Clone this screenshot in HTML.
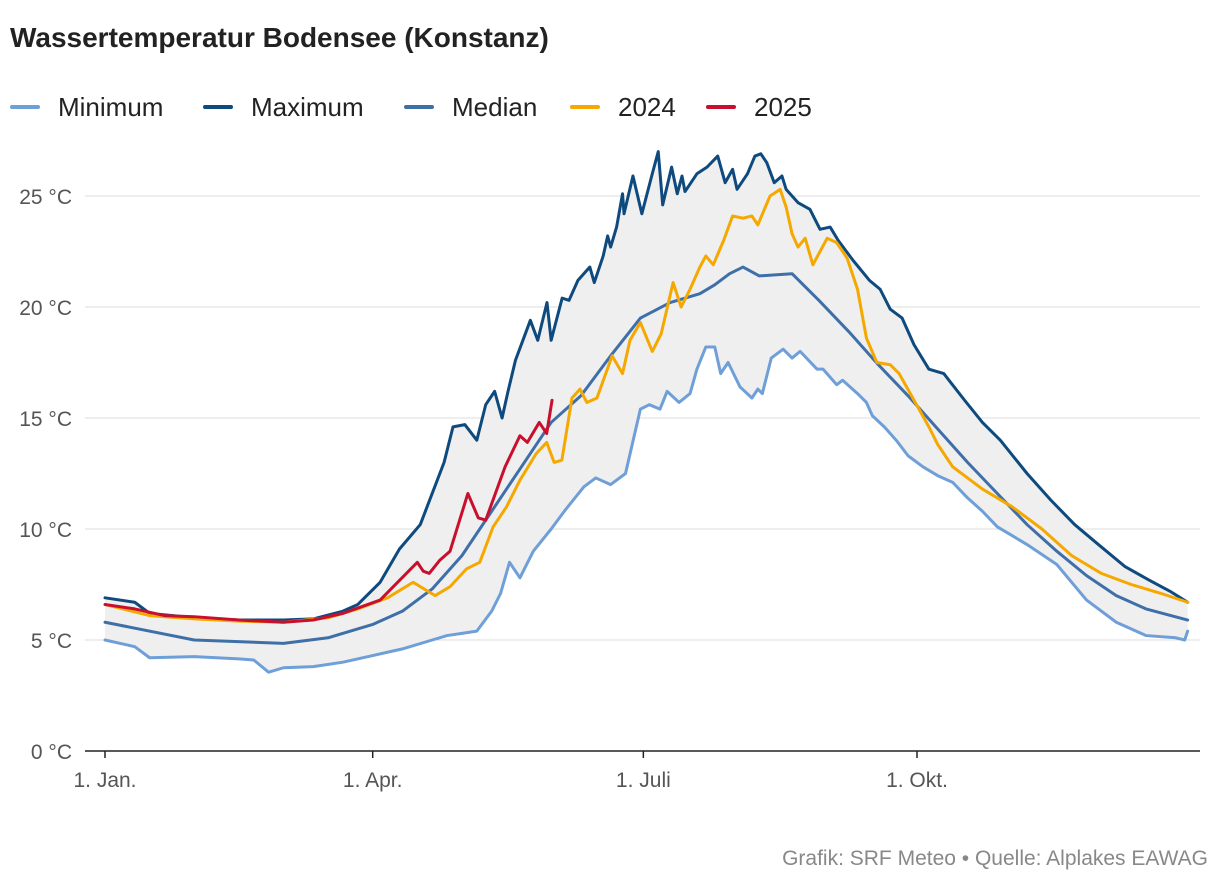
<!DOCTYPE html>
<html><head><meta charset="utf-8"><style>
body{margin:0;background:#fff;width:1220px;height:888px;overflow:hidden;font-family:"Liberation Sans",sans-serif}
</style></head><body>
<svg id="c" width="1220" height="888" xmlns="http://www.w3.org/2000/svg">
<text x="10" y="47" font-size="28" font-weight="bold" fill="#222">Wassertemperatur Bodensee (Konstanz)</text>
<g id="legend"></g>
<g id="grid"></g>
<g id="plot"></g>
<text x="1208" y="865" font-size="21" fill="#888" text-anchor="end">Grafik: SRF Meteo • Quelle: Alplakes EAWAG</text>
</svg>
<script>
const yTicks=[0,5,10,15,20,25];
const xTickDays=[0,90,181,273];
const xTickLabels=["1. Jan.","1. Apr.","1. Juli","1. Okt."];
const seriesNames=["Minimum","Maximum","Median","2024","2025"];
const minDays=[0,10,15,30,45,50,55,60,70,80,90,100,110,115,120,125,130,133,136,139.5,144,150,155,161,165,170,175,180,183,186.6,189,193,196.7,199,202,205,207,209.5,213.5,217.5,219.5,221,224,228,231,233.7,239.4,241.4,246,248,253,256,258,262,266,270,275,280,285,290,295,300,310,320,330,340,350,360,363,364];
const minVals=[5.0,4.7,4.2,4.25,4.15,4.1,3.55,3.75,3.8,4.0,4.3,4.6,5.0,5.2,5.3,5.4,6.3,7.1,8.5,7.8,9.0,10.0,10.9,11.9,12.3,12.0,12.5,15.4,15.6,15.4,16.2,15.7,16.1,17.2,18.2,18.2,17.0,17.5,16.4,15.9,16.3,16.1,17.7,18.1,17.7,18.0,17.2,17.2,16.5,16.7,16.1,15.7,15.1,14.6,14.0,13.3,12.8,12.4,12.1,11.4,10.8,10.1,9.3,8.4,6.8,5.8,5.2,5.1,5.0,5.4];
const maxDays=[0,10,15,30,45,60,70,80,85,92.5,99,106,114,117,121,125,128,131,133.5,135.5,138,140.5,143,145.5,148.6,150,153.7,156,159,163,164.5,167.5,169,170,172,174,174.5,177.5,180.5,184,186,187.5,190.5,192.4,194,195,199,202.4,206,208.5,211,212.5,216,218.5,220.5,222.5,225,227.6,229,233,237,240.4,243.8,246.5,251.5,257,260.6,264,268,272,277,282,289,295,301,310,318,326,334,343,351,358,364];
const maxVals=[6.9,6.7,6.2,6.0,5.9,5.9,5.95,6.3,6.6,7.6,9.1,10.2,13.0,14.6,14.7,14.0,15.6,16.2,15.0,16.2,17.6,18.5,19.4,18.5,20.2,18.5,20.4,20.3,21.2,21.8,21.1,22.3,23.2,22.7,23.6,25.1,24.2,25.9,24.2,26.0,27.0,24.6,26.3,25.1,25.9,25.2,26.0,26.3,26.8,25.6,26.2,25.3,26.0,26.8,26.9,26.5,25.6,25.9,25.3,24.7,24.4,23.5,23.6,23.0,22.1,21.2,20.8,19.9,19.5,18.3,17.2,17.0,15.8,14.8,14.0,12.5,11.3,10.2,9.3,8.3,7.7,7.2,6.7];
const medDays=[0,30,60,75,90,100,110,120,130,140,150,160,170,180,190,200,205,210,214.5,220,231,240,250,260,270,280,290,300,310,320,330,340,350,364];
const medVals=[5.8,5.0,4.85,5.1,5.7,6.3,7.3,8.8,10.8,12.8,14.8,16.0,17.8,19.5,20.2,20.6,21.0,21.5,21.8,21.4,21.5,20.3,18.9,17.4,16.0,14.5,13.0,11.6,10.2,9.0,7.9,7.0,6.4,5.9];
const y24Days=[0,15,30,45,60,75,85,95,103.6,111,116,121.5,126,130.5,135,139.5,145,148.5,151,153.6,157,159.7,162,165.4,170.5,174,176.5,180,184,187,191,193.7,196.7,200,202,204.5,208,211,214.5,217.5,219.5,222,223.6,227,229,231,233,235.4,238,242.8,246,249.5,253,256,259.5,264,267,272,277,280,285,295,305,315,325,335,345,355,364];
const y24Vals=[6.6,6.1,5.95,5.85,5.8,6.0,6.4,6.9,7.6,7.0,7.4,8.2,8.5,10.1,11.0,12.2,13.4,13.9,13.0,13.1,15.9,16.3,15.7,15.9,17.8,17.0,18.5,19.3,18.0,18.8,21.1,20.0,20.8,21.8,22.3,21.9,23.0,24.1,24.0,24.1,23.7,24.5,25.0,25.3,24.5,23.3,22.7,23.1,21.9,23.1,22.9,22.2,20.8,18.6,17.5,17.4,17.0,15.8,14.6,13.8,12.8,11.8,11.0,10.0,8.8,8.0,7.5,7.1,6.7];
const y25Days=[0,10,20,30,45,60,70,80,92.5,105,107,109,112.6,116,122,125.5,128,134.5,139.5,142,146,148.5,150.3];
const y25Vals=[6.6,6.4,6.1,6.05,5.9,5.8,5.9,6.2,6.8,8.5,8.1,8.0,8.6,9.0,11.6,10.5,10.4,12.8,14.2,13.9,14.8,14.3,15.8];

const NS="http://www.w3.org/2000/svg";
const X0=105,DX=(917-105)/273,Y0=751,DY=22.2;
const xs=d=>X0+d*DX, ys=v=>Y0-v*DY;
function mk(tag,attrs,parent){const e=document.createElementNS(NS,tag);for(const k in attrs)e.setAttribute(k,attrs[k]);parent.appendChild(e);return e;}
const grid=document.getElementById('grid'),plot=document.getElementById('plot'),leg=document.getElementById('legend');
yTicks.forEach(t=>{
  if(t>0){const l=mk('line',{x1:85,x2:1200,y1:ys(t),y2:ys(t),stroke:'#dcdcdc','stroke-width':1},grid);
  
  }
  const tx=mk('text',{x:72,y:ys(t)+8,'font-size':21,fill:'#555','text-anchor':'end'},grid);tx.textContent=t+' °C';
  
  
});
const ax=mk('line',{x1:85,x2:1200,y1:Y0,y2:Y0,stroke:'#222','stroke-width':1.5},grid);


xTickDays.forEach((d,i)=>{
  const tk=mk('line',{x1:xs(d),x2:xs(d),y1:Y0,y2:Y0+7,stroke:'#222','stroke-width':1.5},grid);
  
  
  const tx=mk('text',{x:xs(d),y:Y0+36,'font-size':21,fill:'#555','text-anchor':'middle'},grid);tx.textContent=xTickLabels[i];
  
  
});
let band=maxDays.map((d,i)=>xs(d)+','+ys(maxVals[i]));
for(let i=minDays.length-1;i>=0;i--)band.push(xs(minDays[i])+','+ys(minVals[i]));
const bp=mk('polygon',{points:band.join(' '),fill:'#efefef'},plot);


const cols=['#6f9fd8','#0e4a7e','#3f6fa8','#f5a800','#c8102e'];
const all=[[minDays,minVals],[maxDays,maxVals],[medDays,medVals],[y24Days,y24Vals],[y25Days,y25Vals]];
all.forEach((s,k)=>{
  const p=mk('polyline',{points:s[0].map((d,i)=>xs(d)+','+ys(s[1][i])).join(' '),fill:'none',stroke:cols[k],'stroke-width':3,'stroke-linejoin':'round','stroke-linecap':'round'},plot);
  
  
});
const legX=[12,205,406,572,708];
seriesNames.forEach((n,k)=>{
  const g=mk('g',{},leg);
  
  
  mk('line',{x1:legX[k],x2:legX[k]+26,y1:107,y2:107,stroke:cols[k],'stroke-width':4,'stroke-linecap':'round'},g);
  const t=mk('text',{x:legX[k]+46,y:116,'font-size':26,fill:'#222'},g);t.textContent=n;
});
</script>
</body></html>
